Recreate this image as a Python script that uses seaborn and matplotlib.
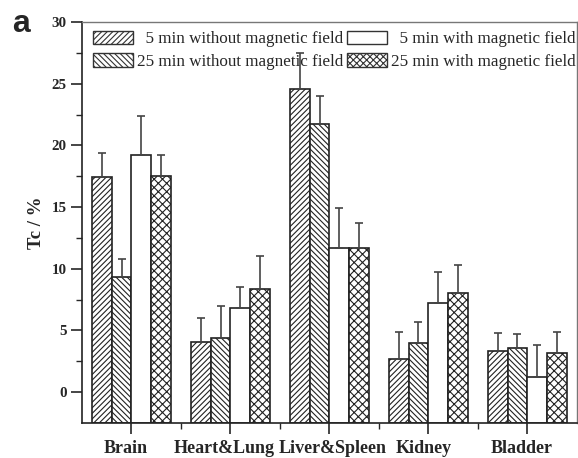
import matplotlib
matplotlib.use("Agg")
import matplotlib.pyplot as plt
import matplotlib.transforms as mtrans
import seaborn as sns
import pandas as pd
import numpy as np

categories = ["Brain", "Heart&Lung", "Liver&Spleen", "Kidney", "Bladder"]
series = ["  5 min without magnetic field", "25 min without magnetic field",
          "  5 min with magnetic field", "25 min with magnetic field"]
vals_5_without = [17.4, 4.1, 24.6, 2.7, 3.3]
vals_25_without = [9.3, 4.4, 21.7, 4.0, 3.6]
vals_5_with = [19.2, 6.8, 11.7, 7.2, 1.2]
vals_25_with = [17.5, 8.4, 11.7, 8.0, 3.2]
err_5_without = [2.0, 1.9, 2.9, 2.2, 1.5]
err_25_without = [1.5, 2.6, 2.3, 1.7, 1.1]
err_5_with = [3.2, 1.7, 3.2, 2.5, 2.6]
err_25_with = [1.7, 2.6, 2.0, 2.3, 1.7]

values = [vals_5_without, vals_25_without, vals_5_with, vals_25_with]
errors = [err_5_without, err_25_without, err_5_with, err_25_with]
hatches = ["//////", "\\\\\\\\\\\\", "", "xxxx"]
legend_hatches = ["//////", "\\\\\\\\\\\\", "", "xxxxx"]

rows = []
for s, vs in zip(series, values):
    for c, v in zip(categories, vs):
        rows.append({"Organ": c, "Series": s, "Tc": v})
df = pd.DataFrame(rows)

sns.set_style("ticks")
plt.rcParams["font.family"] = ["Liberation Serif", "DejaVu Serif"]
plt.rcParams["hatch.color"] = "#555555"
plt.rcParams["hatch.linewidth"] = 0.8

fig = plt.figure(figsize=(5.78, 4.58), dpi=100)
ax = fig.add_axes([0.1419, 0.0764, 0.856, 0.8756])

YMIN = -2.5
sns.barplot(data=df, x="Organ", y="Tc", hue="Series", order=categories,
            hue_order=series, errorbar=None, width=0.8, ax=ax,
            palette=["white"] * 4, edgecolor="#222222", linewidth=1.2,
            saturation=1)

bar_containers = list(ax.containers)
for k, cont in enumerate(bar_containers):
    xs = []
    for p in cont.patches:
        h = p.get_height()
        p.set_y(YMIN)
        p.set_height(h - YMIN)
        p.set_hatch(hatches[k])
        p.set_facecolor("white")
        xs.append(p.get_x() + p.get_width() / 2)
    ax.errorbar(xs, values[k], yerr=[np.zeros(len(errors[k])), errors[k]],
                fmt="none", ecolor="#444444", elinewidth=1.2, capsize=3,
                capthick=1.2, zorder=1)

ax.set_xlim(-0.5, 4.5)
ax.set_ylim(YMIN, 30)
ax.set_yticks([0, 5, 10, 15, 20, 25, 30])
ax.set_yticks(np.arange(2.5, 30, 5), minor=True)
ax.set_xticks(np.arange(0.5, 4.5, 1), minor=True)
ax.tick_params(axis="both", which="major", direction="out", length=8, width=1.2)
ax.tick_params(axis="both", which="minor", direction="out", length=4.5, width=1.0)
ax.tick_params(axis="y", labelsize=10.8, pad=3)
ax.tick_params(axis="x", labelsize=13, pad=4)
for lab in ax.get_yticklabels() + ax.get_xticklabels():
    lab.set_fontweight("bold")
shifts = [-6, -6, 3, -5, -6]
for lab, dx in zip(ax.get_xticklabels(), shifts):
    lab.set_transform(lab.get_transform() +
                      mtrans.ScaledTranslation(dx / 100, 0, fig.dpi_scale_trans))
ax.set_xlabel("")
ax.set_ylabel("Tc / %", fontsize=13.5, fontweight="bold", labelpad=5)

for sp in ["top", "right"]:
    ax.spines[sp].set_visible(True)
    ax.spines[sp].set_color("#777777")
    ax.spines[sp].set_linewidth(1.0)
for sp in ["left", "bottom"]:
    ax.spines[sp].set_linewidth(1.2)
    ax.spines[sp].set_color("#222222")

leg = ax.legend(ncol=2, loc="upper left", bbox_to_anchor=(0.022, 0.978),
                frameon=False, fontsize=12.25, handlelength=2.35,
                handleheight=0.82, columnspacing=0.24, handletextpad=0.24,
                labelspacing=0.36, borderaxespad=0.0, borderpad=0.0)
for h, hatch in zip(leg.legend_handles, legend_hatches):
    h.set_hatch(hatch)
    h.set_facecolor("white")
    h.set_edgecolor("#333333")
    h.set_linewidth(1.0)

fig.text(0.021, 0.930, "a", fontsize=23, fontweight="bold",
         family=["Liberation Sans", "DejaVu Sans"], va="baseline", ha="left")

fig.savefig("out.png", dpi=100)
